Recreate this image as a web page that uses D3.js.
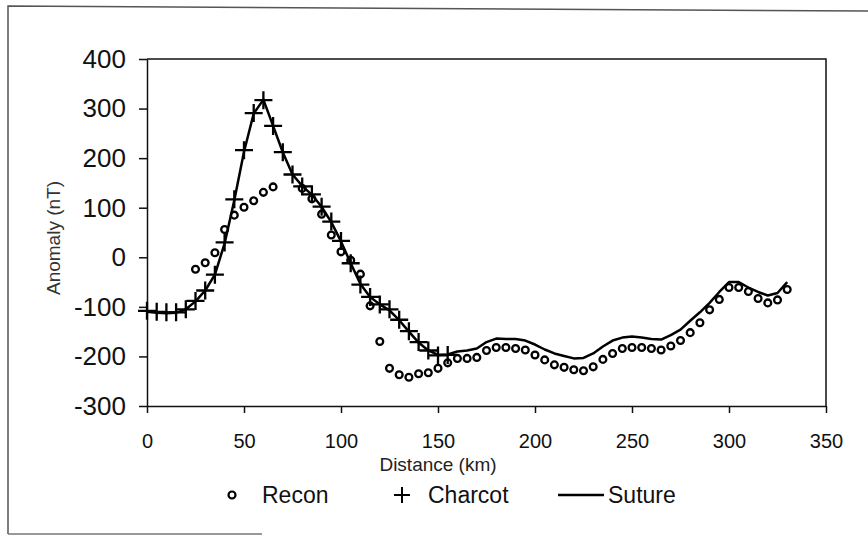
<!DOCTYPE html>
<html>
<head>
<meta charset="utf-8">
<script src="https://cdnjs.cloudflare.com/ajax/libs/d3/7.8.5/d3.min.js"></script>
<style>
    body { margin: 0; background: #fff; }
    svg text { font-family: "Liberation Sans", Arial, sans-serif; fill: #111; }
</style>
</head>
<body>
<div id="chart"></div>
<script>
// 1. Data

var xTicks = [0, 50, 100, 150, 200, 250, 300, 350];
var yTicks = [-300, -200, -100, 0, 100, 200, 300, 400];

// Charcot, every 5 km from 0 to 155
var charcotKm = [0, 5, 10, 15, 20, 25, 30, 35, 40, 45, 50, 55, 60, 65, 70, 75,
    80, 85, 90, 95, 100, 105, 110, 115, 120, 125, 130, 135, 140, 145, 150, 155];
var charcotNT = [-108, -110, -111, -111, -105, -88, -67, -35, 30, 117, 216, 291, 317, 265, 212, 167,
    143, 127, 102, 72, 33, -12, -55, -80, -95, -105, -126, -149, -171, -188, -198, -197];

// Recon
var reconKm = [25, 30, 35, 40, 45, 50, 55, 60, 65,
    80, 85, 90, 95, 100, 105, 110, 115, 120, 125, 130, 135, 140, 145, 150, 155,
    160, 165, 170, 175, 180, 185, 190, 195, 200, 205, 210, 215, 220, 225, 230,
    235, 240, 245, 250, 255, 260, 265, 270, 275, 280, 285, 290, 295, 300, 305,
    310, 315, 320, 325, 330];
var reconNT = [-24, -11, 9, 56, 85, 101, 114, 131, 142,
    139, 118, 87, 45, 11, -6, -34, -98, -170, -224, -237, -242, -235, -233, -224, -213,
    -204, -204, -202, -188, -182, -182, -184, -187, -197, -207, -217, -222, -227, -229, -221,
    -206, -194, -184, -182, -182, -184, -187, -179, -168, -152, -132, -106, -85, -61, -61,
    -69, -83, -92, -86, -65];

// Suture
var sutureKm = [0, 5, 10, 15, 20, 25, 30, 35, 40, 45, 50, 55, 60, 65, 70, 75,
    80, 85, 90, 95, 100, 105, 110, 115, 120, 125, 130, 135, 140, 145, 150, 155,
    160, 165, 170, 175, 180, 185, 190, 195, 200, 205, 210, 215, 220, 225, 230,
    235, 240, 245, 250, 255, 260, 265, 270, 275, 280, 285, 290, 295, 300, 305,
    310, 315, 320, 325, 330];
var sutureNT = [-110, -112, -113, -112, -105, -89, -67, -35, 28, 115, 213, 290, 318, 265, 212, 167,
    144, 126, 102, 71, 32, -12, -54, -80, -95, -107, -127, -150, -172, -188, -197, -196,
    -190, -188, -184, -171, -164, -165, -165, -168, -176, -186, -194, -199, -204, -203, -194,
    -180, -168, -162, -160, -162, -165, -166, -157, -146, -128, -111, -92, -70, -50, -50,
    -61, -70, -77, -72, -50];

var legendNames = ["Recon", "Charcot", "Suture"];

// 2. Svg and scales

var svg = d3.select("#chart")
    .append("svg")
    .attr("width", 868)
    .attr("height", 536);

var x = d3.scaleLinear().domain([0, 350]).range([147, 826]);
var y = d3.scaleLinear().domain([-300, 400]).range([406, 59]);

// outer chart border (scanned, only partly visible)
svg.append("path")
    .attr("d", "M8,534 L8,6 L868,11")
    .attr("fill", "none")
    .attr("stroke", "#555")
    .attr("stroke-width", 1.5);
svg.append("path")
    .attr("d", "M8,534 L262,534")
    .attr("fill", "none")
    .attr("stroke", "#777")
    .attr("stroke-width", 1.5);

// plot area frame (top and right)
svg.append("path")
    .attr("d", "M" + x(0) + "," + y(400) + " L" + x(350) + "," + y(400) + " L" + x(350) + "," + y(-300))
    .attr("fill", "none")
    .attr("stroke", "#111")
    .attr("stroke-width", 1.5);

// 3. Axes

var plainNumber = function (d) { return String(d) }; // keep the ascii hyphen

var yAxis = svg.append("g")
    .attr("transform", "translate(" + x(0) + ",0)")
    .call(d3.axisLeft(y).tickValues(yTicks).tickFormat(plainNumber)
        .tickSize(8).tickSizeOuter(0).tickPadding(13));

var xAxis = svg.append("g")
    .attr("transform", "translate(0," + y(-300) + ")")
    .call(d3.axisBottom(x).tickValues(xTicks).tickFormat(plainNumber)
        .tickSize(7).tickSizeOuter(0).tickPadding(21));

yAxis.selectAll("text").style("font-size", "26px");
xAxis.selectAll("text").style("font-size", "20px");
svg.selectAll(".domain, .tick line").attr("stroke", "#111").attr("stroke-width", 1.5);

svg.append("text")
    .attr("transform", "translate(60,238) rotate(-90)")
    .attr("text-anchor", "middle")
    .style("font-size", "19px")
    .style("fill", "#333")
    .text("Anomaly (nT)");

svg.append("text")
    .attr("x", 438)
    .attr("y", 471)
    .attr("text-anchor", "middle")
    .style("font-size", "19px")
    .style("fill", "#222")
    .text("Distance (km)");

// 4. Series

var sutureLine = d3.line()
    .x(function (d, i) { return x(sutureKm[i]) })
    .y(function (d) { return y(d) });

svg.append("path")
    .datum(sutureNT)
    .attr("d", sutureLine)
    .attr("fill", "none")
    .attr("stroke", "#000")
    .attr("stroke-width", 2.5)
    .attr("stroke-linejoin", "round");

function plusPath(cx, cy, h) {
    return "M" + (cx - h) + "," + cy + " L" + (cx + h) + "," + cy +
        " M" + cx + "," + (cy - h) + " L" + cx + "," + (cy + h);
}

svg.append("g")
    .selectAll("path")
    .data(charcotNT)
    .enter()
    .append("path")
    .attr("d", function (d, i) { return plusPath(x(charcotKm[i]), y(d), 9) })
    .attr("stroke", "#000")
    .attr("stroke-width", 2.3);

svg.append("g")
    .selectAll("circle")
    .data(reconNT)
    .enter()
    .append("circle")
    .attr("cx", function (d, i) { return x(reconKm[i]) })
    .attr("cy", function (d) { return y(d) })
    .attr("r", 3.4)
    .attr("fill", "none")
    .attr("stroke", "#000")
    .attr("stroke-width", 2.3);

// 5. Legend

var legend = svg.append("g");

legend.append("circle")
    .attr("cx", 232).attr("cy", 495).attr("r", 3.5)
    .attr("fill", "none").attr("stroke", "#000").attr("stroke-width", 2.2);
legend.append("path")
    .attr("d", plusPath(402, 495, 8))
    .attr("stroke", "#000").attr("stroke-width", 2);
legend.append("path")
    .attr("d", "M558,495 L604,495")
    .attr("stroke", "#000").attr("stroke-width", 2.5);

legend.selectAll("text")
    .data(legendNames)
    .enter()
    .append("text")
    .attr("x", function (d, i) { return [262, 428, 608][i] })
    .attr("y", 503)
    .style("font-size", "23px")
    .text(function (d) { return d });
</script>
</body>
</html>
